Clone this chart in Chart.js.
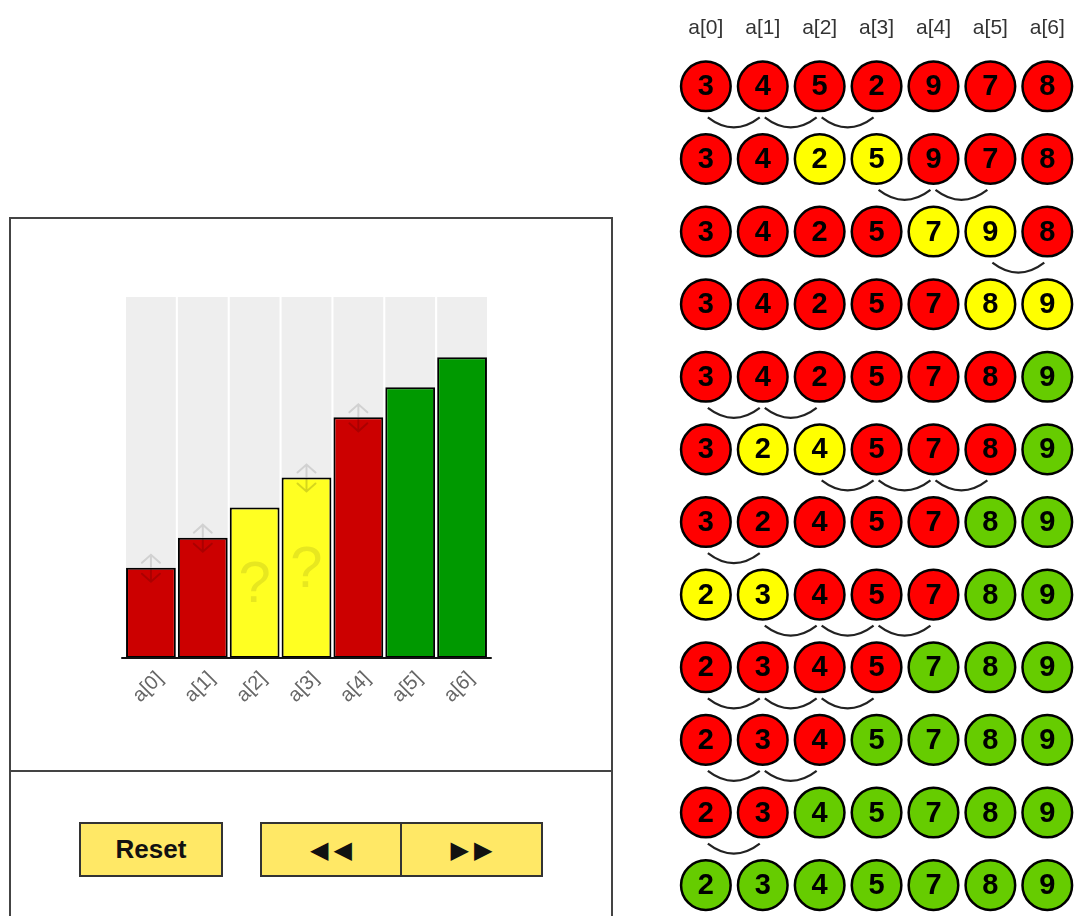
<!DOCTYPE html>
<html><head><meta charset="utf-8">
<script src="https://cdn.jsdelivr.net/npm/chart.js@4"></script>
<style>
html,body{margin:0;padding:0;background:#fff;width:1074px;height:916px;overflow:hidden;font-family:"Liberation Sans",Arial,sans-serif;}
#box{position:absolute;left:9px;top:217px;width:604px;height:760px;border:2px solid #444;box-sizing:border-box;}
#divider{position:absolute;left:9px;top:770px;width:604px;height:2px;background:#444;}
#barCanvas{position:absolute;left:11px;top:219px;}
#circCanvas{position:absolute;left:670px;top:0;}
.btn{position:absolute;top:822px;height:55px;background:#ffe866;border:2px solid #333;box-sizing:border-box;display:flex;align-items:center;justify-content:center;font-weight:bold;color:#111;}
#reset{left:79px;width:144px;font-size:26px;}
#back{left:260px;width:142px;font-family:"DejaVu Sans",sans-serif;font-size:24px;letter-spacing:5px;padding-left:5px;}
#fwd{left:400px;width:143px;font-family:"DejaVu Sans",sans-serif;font-size:24px;letter-spacing:5px;padding-left:5px;}
</style>
</head><body>
<div id="box"></div>
<div id="divider"></div>
<canvas id="barCanvas" width="600" height="551"></canvas>
<canvas id="circCanvas" width="404" height="916"></canvas>
<div class="btn" id="reset">Reset</div>
<div class="btn" id="back">◀◀</div>
<div class="btn" id="fwd">▶▶</div>
<script>
// ---- bar chart data ----
const barLabels = ['a[0]','a[1]','a[2]','a[3]','a[4]','a[5]','a[6]'];
const barValues = [3, 4, 5, 6, 8, 9, 10];
const barStates = ['R','R','Y','Y','R','G','G'];
const barArrows = [1, 1, 0, 1, 1, 0, 0];
const barQuestion = [0, 0, 1, 1, 0, 0, 0];
const barMax = 12;

// ---- pass (circle rows) data ----
const colLabels = ['a[0]','a[1]','a[2]','a[3]','a[4]','a[5]','a[6]'];
const passValues = [
  [3,4,5,2,9,7,8],
  [3,4,2,5,9,7,8],
  [3,4,2,5,7,9,8],
  [3,4,2,5,7,8,9],
  [3,4,2,5,7,8,9],
  [3,2,4,5,7,8,9],
  [3,2,4,5,7,8,9],
  [2,3,4,5,7,8,9],
  [2,3,4,5,7,8,9],
  [2,3,4,5,7,8,9],
  [2,3,4,5,7,8,9],
  [2,3,4,5,7,8,9]
];
const passStates = ['RRRRRRR','RRYYRRR','RRRRYYR','RRRRRYY','RRRRRRG','RYYRRRG','RRRRRGG','YYRRRGG','RRRRGGG','RRRGGGG','RRGGGGG','GGGGGGG'];
const passArcs = [[0,1,2],[3,4],[5],[],[0,1],[2,3,4],[0],[1,2,3],[0,1,2],[0,1],[0],[]];

const barColors = {R:'#cc0000', Y:'#ffff22', G:'#009900'};
const circColors = {R:'#ff0000', Y:'#ffff00', G:'#66cc00'};
const FONT = '"Liberation Sans", Arial, sans-serif';

// ---- bar chart ----
const barExtras = {
  id: 'barExtras',
  afterDatasetsDraw(chart) {
    const ctx = chart.ctx;
    const meta = chart.getDatasetMeta(0);
    const area = chart.chartArea;
    ctx.save();
    meta.data.forEach((el, i) => {
      const x = el.x, top = el.y;
      if (barQuestion[i]) {
        ctx.fillStyle = 'rgba(170,170,30,0.28)';
        ctx.font = '58px ' + FONT;
        ctx.textAlign = 'center';
        ctx.textBaseline = 'middle';
        ctx.fillText('?', x, (top + el.base) / 2 + 3);
      }
      if (barArrows[i]) {
        ctx.lineWidth = 2;
        ctx.lineCap = 'round';
        ctx.strokeStyle = 'rgba(0,0,0,0.12)';
        ctx.beginPath();
        ctx.moveTo(x, top - 1); ctx.lineTo(x, top - 13);
        ctx.moveTo(x - 9, top - 5); ctx.lineTo(x, top - 13); ctx.lineTo(x + 9, top - 5);
        ctx.stroke();
        ctx.strokeStyle = 'rgba(0,0,0,0.16)';
        ctx.beginPath();
        ctx.moveTo(x, top + 2); ctx.lineTo(x, top + 14);
        ctx.moveTo(x - 9, top + 6); ctx.lineTo(x, top + 14); ctx.lineTo(x + 9, top + 6);
        ctx.stroke();
      }
    });
    ctx.strokeStyle = '#111';
    ctx.lineWidth = 2;
    ctx.beginPath();
    ctx.moveTo(area.left - 3, area.bottom);
    ctx.lineTo(area.right + 3, area.bottom);
    ctx.stroke();
    ctx.restore();
  }
};

new Chart(document.getElementById('barCanvas'), {
  type: 'bar',
  data: {
    labels: barLabels,
    datasets: [
      {
        data: barValues,
        backgroundColor: barStates.map(s => barColors[s]),
        borderColor: '#000',
        borderWidth: 2,
        borderSkipped: false,
        categoryPercentage: 1,
        barPercentage: 0.96,
        grouped: false
      },
      {
        data: barLabels.map(() => barMax),
        backgroundColor: '#eeeeee',
        borderWidth: 0,
        categoryPercentage: 1,
        barPercentage: 0.96,
        grouped: false
      }
    ]
  },
  options: {
    responsive: false,
    animation: false,
    events: [],
    layout: { autoPadding: false, padding: { left: 114, right: 123, top: 78, bottom: 42 } },
    plugins: { legend: { display: false }, tooltip: { enabled: false } },
    scales: {
      x: {
        grid: { display: false, drawTicks: false },
        border: { display: false },
        ticks: {
          color: '#666',
          font: { size: 20, family: FONT },
          minRotation: 45, maxRotation: 45,
          labelOffset: 9,
          padding: 9,
          autoSkip: false
        },
        afterFit: s => { s.height = 70; }
      },
      y: { display: false, min: 0, max: barMax }
    }
  },
  plugins: [barExtras]
});

// ---- circle rows ----
const points = [], pointColors = [], pointLabels = [];
passValues.forEach((row, r) => {
  row.forEach((v, c) => {
    points.push({ x: c, y: r });
    pointColors.push(circColors[passStates[r][c]]);
    pointLabels.push(String(v));
  });
});

const circExtras = {
  id: 'circExtras',
  afterDatasetsDraw(chart) {
    const ctx = chart.ctx;
    const xs = chart.scales.x, ys = chart.scales.y;
    const meta = chart.getDatasetMeta(0);
    ctx.save();
    ctx.fillStyle = '#000';
    ctx.font = 'bold 29px ' + FONT;
    ctx.textAlign = 'center';
    ctx.textBaseline = 'middle';
    meta.data.forEach((el, k) => {
      ctx.fillText(pointLabels[k], el.x, el.y + 1);
    });
    ctx.strokeStyle = '#222';
    ctx.lineWidth = 2.2;
    passArcs.forEach((arcs, r) => {
      const y0 = ys.getPixelForValue(r) + 31;
      arcs.forEach(i => {
        const x1 = xs.getPixelForValue(i) + 2;
        const x2 = xs.getPixelForValue(i + 1) - 3;
        ctx.beginPath();
        ctx.moveTo(x1, y0);
        ctx.quadraticCurveTo((x1 + x2) / 2, y0 + 20, x2, y0);
        ctx.stroke();
      });
    });
    ctx.restore();
  }
};

new Chart(document.getElementById('circCanvas'), {
  type: 'scatter',
  data: {
    datasets: [{
      data: points,
      pointRadius: 24.8,
      pointHoverRadius: 24.8,
      pointBorderWidth: 2.5,
      pointBackgroundColor: pointColors,
      pointBorderColor: '#000',
      clip: false
    }]
  },
  options: {
    responsive: false,
    animation: false,
    events: [],
    layout: { autoPadding: false, padding: { left: 0, right: 3.8, top: 0, bottom: 1.8 } },
    plugins: { legend: { display: false }, tooltip: { enabled: false } },
    scales: {
      x: {
        type: 'linear',
        position: 'top',
        min: -0.63, max: 6.37,
        grid: { display: false, drawTicks: false },
        border: { display: false },
        afterBuildTicks: s => { s.ticks = colLabels.map((_, i) => ({ value: i })); },
        ticks: {
          color: '#333',
          font: { size: 21, family: FONT },
          maxRotation: 0, minRotation: 0,
          autoSkip: false,
          padding: 9,
          callback: v => colLabels[v]
        },
        afterFit: s => { s.height = 50; }
      },
      y: {
        type: 'linear',
        reverse: true,
        display: false,
        min: -0.5, max: 11.4
      }
    }
  },
  plugins: [circExtras]
});
</script>
</body></html>
